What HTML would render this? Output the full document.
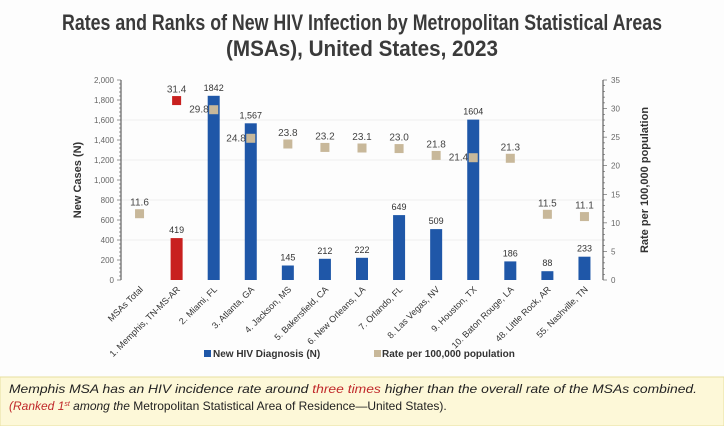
<!DOCTYPE html>
<html><head><meta charset="utf-8"><style>
body{margin:0;background:#fff;width:724px;height:426px;overflow:hidden;font-family:"Liberation Sans",sans-serif}
svg{display:block}
</style></head><body>
<svg id="chart" width="724" height="426" xmlns="http://www.w3.org/2000/svg">
<rect x="0" y="0" width="724" height="426" fill="#fdfdfd"/>
<text x="362" y="30" text-anchor="middle" font-size="22" font-weight="bold" fill="#3a3a3a" textLength="600" lengthAdjust="spacingAndGlyphs">Rates and Ranks of New HIV Infection by Metropolitan Statistical Areas</text>
<text x="362" y="56" text-anchor="middle" font-size="22" font-weight="bold" fill="#3a3a3a" textLength="272" lengthAdjust="spacingAndGlyphs">(MSAs), United States, 2023</text>
<g id="grid"></g>
<g id="axes"></g>
<g id="marks"></g>
<text transform="translate(81,180) rotate(-90)" text-anchor="middle" font-size="11" font-weight="bold" fill="#333">New Cases (N)</text>
<text transform="translate(648,180) rotate(-90)" text-anchor="middle" font-size="11" font-weight="bold" fill="#333">Rate per 100,000 population</text>
<g>
<rect x="204" y="350" width="7" height="7" fill="#1f57a8"/>
<text x="213" y="357" font-size="10" font-weight="bold" fill="#333">New HIV Diagnosis (N)</text>
<rect x="374" y="350" width="7" height="7" fill="#c8b89a"/>
<text x="382" y="357" font-size="10" font-weight="bold" fill="#333">Rate per 100,000 population</text>
</g>
<rect x="0" y="377" width="724" height="49" fill="#fdf8d8" stroke="#e8dfa0"/>
<text x="9" y="393" font-size="12" font-style="italic" fill="#222" textLength="688" lengthAdjust="spacingAndGlyphs">Memphis MSA has an HIV incidence rate around <tspan fill="#c0282a">three times</tspan> higher than the overall rate of the MSAs combined.</text>
<text x="9" y="410" font-size="12" fill="#222"><tspan font-style="italic" fill="#c0282a">(Ranked 1</tspan><tspan font-style="italic" fill="#c0282a" font-size="7" dy="-4">st</tspan><tspan dy="4" font-style="italic"> among the</tspan> Metropolitan Statistical Area of Residence—United States).</text>
</svg>
<script>
const categories=["MSAs Total","1. Memphis, TN-MS-AR","2. Miami, FL","3. Atlanta, GA","4. Jackson, MS","5. Bakersfield, CA","6. New Orleans, LA","7. Orlando, FL","8. Las Vegas, NV","9. Houston, TX","10. Baton Rouge, LA","48. Little Rock, AR","55. Nashville, TN"];
const cases=[null,419,1842,1567,145,212,222,649,509,1604,186,88,233];
const caseLabels=["","419","1842","1,567","145","212","222","649","509","1604","186","88","233"];
const rates=[11.6,31.4,29.8,24.8,23.8,23.2,23.1,23.0,21.8,21.4,21.3,11.5,11.1];
const leftTicks=["0","200","400","600","800","1,000","1,200","1,400","1,600","1,800","2,000"];
const rightTicks=["0","5","10","15","20","25","30","35"];
const NS="http://www.w3.org/2000/svg";
const x0=121,x1=603,yTop=80,yBot=280;
const step=(x1-x0)/categories.length;
const xPos=i=>x0+step*(i+0.5);
const yL=v=>yBot-(v/2000)*(yBot-yTop);
const yR=v=>yBot-(v/35)*(yBot-yTop);
function mk(tag,attrs,parent){const e=document.createElementNS(NS,tag);for(const k in attrs)e.setAttribute(k,attrs[k]);parent.appendChild(e);return e;}
const grid=document.getElementById('grid'),axes=document.getElementById('axes'),marks=document.getElementById('marks');
for(let i=1;i<=4;i++){const g=mk('line',{x1:x0,x2:x1,y1:yL(i*400),y2:yL(i*400),stroke:'#eeeeee'},grid);

}
const la=mk('line',{x1:x0,x2:x0,y1:yTop,y2:yBot,stroke:'#444'},axes);


const ra=mk('line',{x1:x1,x2:x1,y1:yTop,y2:yBot,stroke:'#444'},axes);


for(let v=0;v<=2000;v+=40){mk('line',{x1:x0-(v%200===0?4:2),x2:x0,y1:yL(v),y2:yL(v),stroke:'#555','stroke-width':0.6},axes);}
leftTicks.forEach((t,i)=>{const e=mk('text',{x:x0-7,y:yL(i*200)+3,'text-anchor':'end','font-size':8,fill:'#666'},axes);e.textContent=t;

});
for(let v=0;v<=35;v+=1){mk('line',{x1:x1,x2:x1+(v%5===0?4:2),y1:yR(v),y2:yR(v),stroke:'#555','stroke-width':0.6},axes);}
rightTicks.forEach((t,i)=>{const e=mk('text',{x:x1+8,y:yR(i*5)+3,'font-size':8,fill:'#666'},axes);e.textContent=t;

});
categories.forEach((c,i)=>{const x=xPos(i);
const t=mk('text',{transform:`translate(${x+4},${yBot+10}) rotate(-45)`,'text-anchor':'end','font-size':9,fill:'#333'},axes);t.textContent=c;


if(cases[i]!=null){const b=mk('rect',{x:x-6,y:yL(cases[i]),width:12,height:yBot-yL(cases[i]),fill:i===1?'#c8201f':'#1f57a8'},marks);


const l=mk('text',{x:x,y:yL(cases[i])-5,'text-anchor':'middle','font-size':9,fill:'#333'},marks);l.textContent=caseLabels[i];

}
const ry=yR(rates[i]);
const p=mk('rect',{x:x-4.5,y:ry-4.5,width:9,height:9,fill:i===1?'#c8201f':'#c8b89a'},marks);


const left=(i===2||i===3||i===9);
const rl=mk('text',{x:left?x-5:x,y:left?ry+3:ry-8,'text-anchor':left?'end':'middle','font-size':10,fill:'#444'},marks);rl.textContent=rates[i].toFixed(1);

});
</script>
</body></html>
